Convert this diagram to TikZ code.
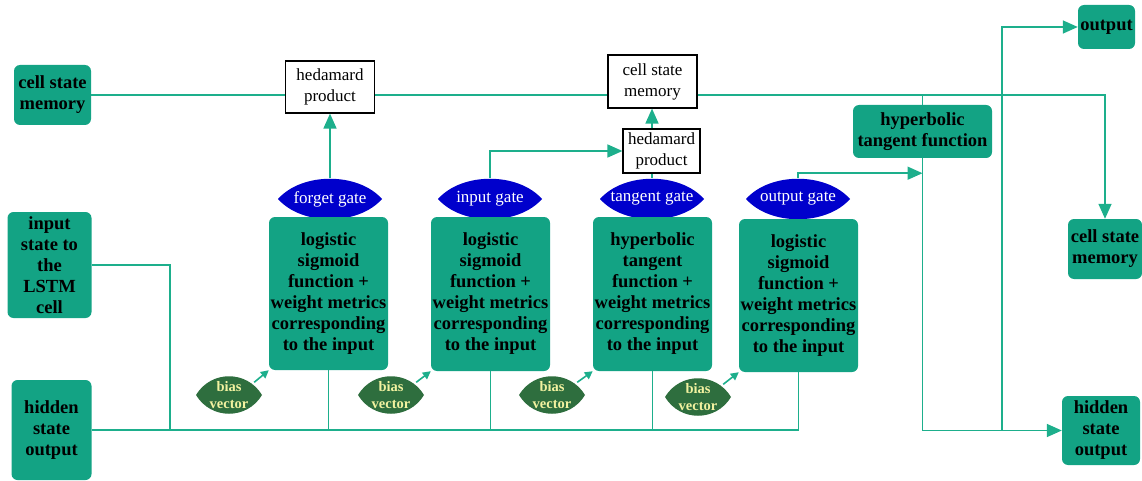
\documentclass[tikz,border=0pt]{standalone}
\usepackage{fontspec}
\setmainfont{Liberation Serif}
\usetikzlibrary{arrows.meta}

\definecolor{boxgreen}{HTML}{13A384}
\definecolor{linegreen}{HTML}{1DAF8C}
\definecolor{gateblue}{HTML}{0000CC}
\definecolor{biasgreen}{HTML}{2E6E3E}
\definecolor{biastext}{HTML}{F2F2A0}

\begin{document}
\begin{tikzpicture}[x=1pt,y=-1pt,
  gbox/.style={fill=boxgreen, rounded corners=6pt, inner sep=0pt, align=center,
    font=\bfseries\fontsize{18.5}{21}\selectfont},
  wbox/.style={draw=black, line width=1.2pt, fill=white, inner sep=0pt, align=center,
    font=\fontsize{17}{21}\selectfont},
  gate/.style={minimum width=104pt, minimum height=41pt, inner sep=0pt, text=white,
    font=\fontsize{17}{19}\selectfont,
    path picture={\fill[gateblue] (path picture bounding box.west)
      .. controls +(24pt,27pt) and +(-24pt,27pt) .. (path picture bounding box.east)
      .. controls +(-24pt,-27pt) and +(24pt,-27pt) .. (path picture bounding box.west);}},
  bias/.style={minimum width=66pt, minimum height=39pt, inner sep=0pt, text=biastext,
    align=center, font=\bfseries\fontsize{14.5}{16.5}\selectfont,
    path picture={\fill[biasgreen] (path picture bounding box.west)
      .. controls +(15pt,25pt) and +(-15pt,25pt) .. (path picture bounding box.east)
      .. controls +(-15pt,-25pt) and +(15pt,-25pt) .. (path picture bounding box.west);}},
  conn/.style={draw=linegreen, line width=1.6pt},
  arr/.style={conn, -{Triangle[length=15pt,width=13pt]}},
  barr/.style={conn, -{Triangle[length=8pt,width=8pt]}}
]
\useasboundingbox (0,0) rectangle (1142,481);

% input / output boxes on the left
\node[gbox, minimum width=77pt, minimum height=60pt] (csmL) at (52.5,95) {cell state\\memory};
\node[gbox, minimum width=84pt, minimum height=106pt] (inL) at (49.5,265) {input\\state to\\the\\LSTM\\cell};
\node[gbox, minimum width=80pt, minimum height=100pt] (hsL) at (51.5,430) {hidden\\state\\output};

% products and updated memory
\node[wbox, minimum width=89pt, minimum height=52pt] (had1) at (330,87) {hedamard\\product};
\node[wbox, minimum width=89pt, minimum height=53pt] (csmM) at (652.5,81.5) {cell state\\memory};
\node[wbox, minimum width=77pt, minimum height=44pt] (had2) at (661.5,151) {hedamard\\product};

% gates
\node[gate] (fg) at (330,199) {forget gate};
\node[gate] (ig) at (490,199) {input gate};
\node[gate] (tg) at (652,199) {tangent gate};
\node[gate] (og) at (798,199) {output gate};

% gate functions
\node[gbox, minimum width=119pt, minimum height=153pt] (f1) at (328.5,293.5)
  {logistic\\sigmoid\\function +\\weight metrics\\corresponding\\to the input};
\node[gbox, minimum width=119pt, minimum height=154pt] (f2) at (490.5,294)
  {logistic\\sigmoid\\function +\\weight metrics\\corresponding\\to the input};
\node[gbox, minimum width=119pt, minimum height=154pt] (f3) at (652.5,294)
  {hyperbolic\\tangent\\function +\\weight metrics\\corresponding\\to the input};
\node[gbox, minimum width=119pt, minimum height=153pt] (f4) at (798.5,295.5)
  {logistic\\sigmoid\\function +\\weight metrics\\corresponding\\to the input};

% bias vectors
\node[bias] (b1) at (229,395) {bias\\vector};
\node[bias] (b2) at (391,395) {bias\\vector};
\node[bias] (b3) at (552,395) {bias\\vector};
\node[bias] (b4) at (698,397) {bias\\vector};

% output side
\node[gbox, minimum width=139pt, minimum height=53pt] (hyp) at (922.5,131.5) {hyperbolic\\tangent function};
\node[gbox, minimum width=57pt, minimum height=44pt] (out) at (1106.5,27) {output};
\node[gbox, minimum width=74pt, minimum height=60pt] (csmR) at (1105,249) {cell state\\memory};
\node[gbox, minimum width=78pt, minimum height=69pt] (hsR) at (1101,430.5) {hidden\\state\\output};

% junction points
\coordinate (inj) at (170,430);
\coordinate (tap) at ([yshift=-15pt]hyp.south);
\coordinate (outj) at (1002,430);

% cell state line
\draw[conn] (csmL.east) -- (csmL.east -| had1.west);
\draw[conn] (had1.east |- csmL.east) -- (csmL.east -| csmM.west);
\draw[arr] (csmM.east |- csmL.east) -| (csmR.north);
\draw[conn] (hyp.north |- csmL.east) -- (hyp.north);

% hidden state and input bus
\draw[conn] (hsL.east) -- (hsL.east -| f4.south);
\draw[conn] (inL.east) -| (inj);
\foreach \f in {f1,f2,f3,f4} \draw[conn] (\f.south) -- (\f.south |- hsL.east);

% bias inputs
\foreach \b/\f in {b1/f1,b2/f2,b3/f3,b4/f4}
  \draw[barr] ([xshift=-8pt,yshift=-7pt]\b.north east) -- (\f.south west);

% gate outputs
\draw[arr] (fg.north) -- (fg.north |- had1.south);
\draw[arr] (ig.north) |- (had2.west);
\draw[conn] (tg.north) -- (tg.north |- had2.south);
\draw[arr] (tg.north |- had2.north) -- (tg.north |- csmM.south);
\draw[arr] (og.north) |- (tap);

% outputs
\draw[arr] (hyp.south) |- (hsR.west);
\draw[arr] (outj) |- (out.west);
\end{tikzpicture}
\end{document}
